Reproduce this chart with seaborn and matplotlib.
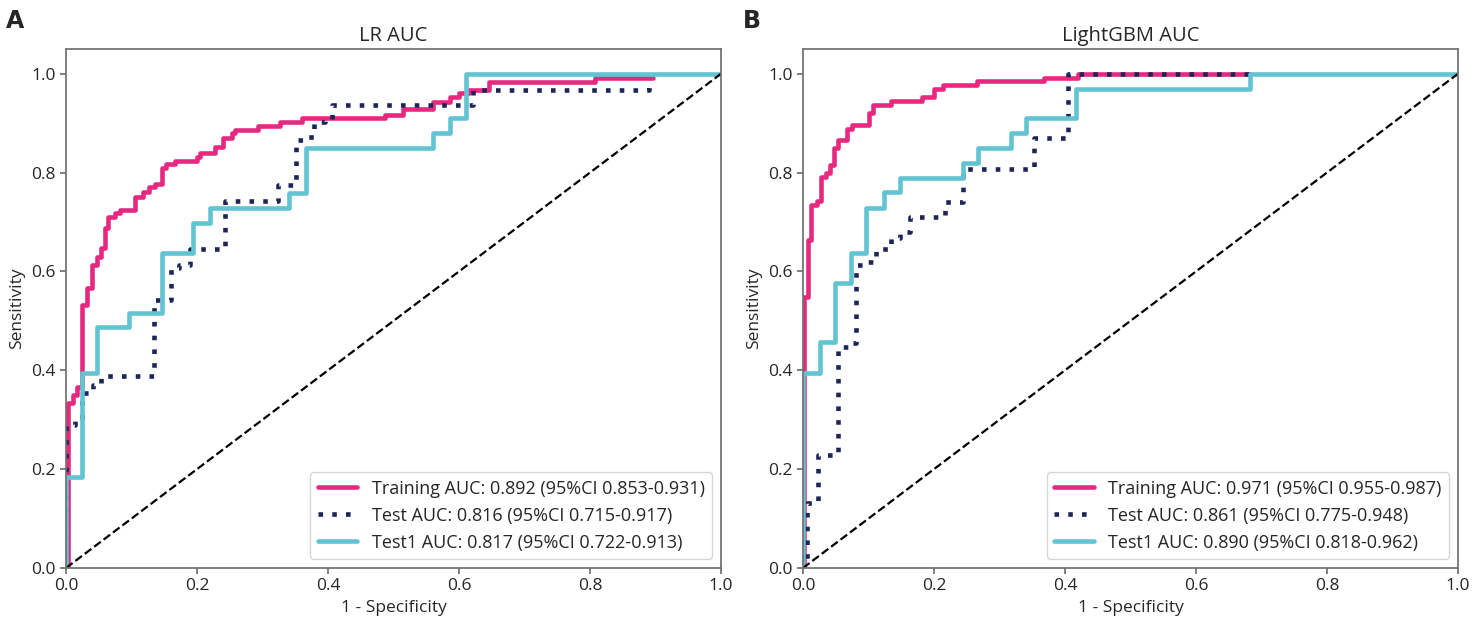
import seaborn as sns
import matplotlib.pyplot as plt
import pandas as pd

# ROC corner points (steps-post order)
lr_train_fpr = [0, 0.003, 0.011, 0.017, 0.025, 0.032, 0.039, 0.047, 0.053, 0.060, 0.064, 0.075,
                0.082, 0.105, 0.118, 0.127, 0.136, 0.146, 0.153, 0.166, 0.200, 0.205, 0.228, 0.240,
                0.253, 0.258, 0.293, 0.327, 0.360, 0.487, 0.515, 0.560, 0.586, 0.600, 0.615, 0.646,
                0.808, 0.896]
lr_train_tpr = [0, 0.334, 0.350, 0.366, 0.532, 0.567, 0.613, 0.630, 0.648, 0.688, 0.711, 0.718,
                0.725, 0.751, 0.761, 0.771, 0.777, 0.810, 0.818, 0.824, 0.832, 0.840, 0.852, 0.870,
                0.880, 0.886, 0.895, 0.903, 0.911, 0.917, 0.929, 0.943, 0.953, 0.961, 0.968, 0.984,
                0.992, 0.992]
lr_test_fpr = [0, 0, 0.014, 0.024, 0.042, 0.054, 0.135, 0.161, 0.172, 0.190, 0.243, 0.324, 0.351,
               0.365, 0.379, 0.396, 0.406, 0.622, 0.890]
lr_test_tpr = [0, 0.290, 0.300, 0.355, 0.370, 0.389, 0.543, 0.607, 0.613, 0.646, 0.743, 0.774,
               0.866, 0.873, 0.903, 0.907, 0.937, 0.968, 0.982]
lr_test1_fpr = [0, 0, 0.024, 0.047, 0.096, 0.146, 0.194, 0.220, 0.341, 0.366, 0.560, 0.586, 0.611, 1.0]
lr_test1_tpr = [0, 0.184, 0.395, 0.488, 0.516, 0.637, 0.698, 0.728, 0.759, 0.850, 0.880, 0.911, 1.0, 1.0]

gbm_train_fpr = [0, 0.002, 0.008, 0.013, 0.021, 0.027, 0.035, 0.041, 0.048, 0.054, 0.067, 0.075,
                 0.101, 0.107, 0.135, 0.181, 0.200, 0.214, 0.266, 0.368, 0.420, 0.682]
gbm_train_tpr = [0, 0.549, 0.664, 0.735, 0.743, 0.792, 0.800, 0.816, 0.850, 0.865, 0.888, 0.897,
                 0.921, 0.937, 0.944, 0.952, 0.969, 0.978, 0.985, 0.992, 1.0, 1.0]
gbm_test_fpr = [0, 0.006, 0.023, 0.053, 0.069, 0.081, 0.100, 0.112, 0.135, 0.148, 0.163, 0.217,
                0.245, 0.352, 0.405, 0.682]
gbm_test_tpr = [0, 0.131, 0.229, 0.448, 0.455, 0.613, 0.620, 0.645, 0.667, 0.679, 0.711, 0.740,
                0.807, 0.870, 1.0, 1.0]
gbm_test1_fpr = [0, 0, 0.026, 0.049, 0.074, 0.097, 0.123, 0.148, 0.244, 0.268, 0.318, 0.341,
                 0.417, 0.682, 1.0]
gbm_test1_tpr = [0, 0.395, 0.458, 0.577, 0.638, 0.729, 0.760, 0.790, 0.819, 0.850, 0.880, 0.910,
                 0.970, 1.0, 1.0]

lr_labels = ['Training AUC: 0.892 (95%CI 0.853-0.931)',
             'Test AUC: 0.816 (95%CI 0.715-0.917)',
             'Test1 AUC: 0.817 (95%CI 0.722-0.913)']
gbm_labels = ['Training AUC: 0.971 (95%CI 0.955-0.987)',
              'Test AUC: 0.861 (95%CI 0.775-0.948)',
              'Test1 AUC: 0.890 (95%CI 0.818-0.962)']

colors = ['#e8287f', '#1c2557', '#62c3d2']
styles = ['-', (0, (1, 2)), '-']

sns.set_theme(style='ticks')
plt.rcParams['font.family'] = ['Open Sans', 'DejaVu Sans']
plt.rcParams['axes.edgecolor'] = '#707070'


def draw(ax, curves, labels, title):
    for (fpr, tpr), label, color, ls in zip(curves, labels, colors, styles):
        df = pd.DataFrame({'x': fpr, 'y': tpr})
        sns.lineplot(data=df, x='x', y='y', ax=ax, sort=False, estimator=None,
                     drawstyle='steps-post', linewidth=3.3, color=color, label=label)
        ax.lines[-1].set_linestyle(ls)
    # chance line
    ax.plot([0, 1], [0, 1], color='black', linestyle='--', linewidth=1.6)
    ax.set(xlim=(0, 1), ylim=(0, 1.05), xlabel='1 - Specificity', ylabel='Sensitivity')
    ax.set_title(title, fontsize=14.5)
    ax.tick_params(labelsize=12.5, color='#707070', length=4)
    ax.xaxis.label.set_size(12.5)
    ax.yaxis.label.set_size(12.5)
    for s in ax.spines.values():
        s.set_visible(True)
    leg = ax.legend(loc='lower right', fontsize=13, frameon=True, handlelength=2.2)
    leg.get_lines()[1].set_linestyle((0, (1, 2)))


fig = plt.figure(figsize=(14.76, 6.22), dpi=100)
ax1 = fig.add_axes([0.0447, 0.0868, 0.4438, 0.8344])
ax2 = fig.add_axes([0.5440, 0.0868, 0.4438, 0.8344])

draw(ax1, [(lr_train_fpr, lr_train_tpr), (lr_test_fpr, lr_test_tpr), (lr_test1_fpr, lr_test1_tpr)],
     lr_labels, 'LR AUC')
draw(ax2, [(gbm_train_fpr, gbm_train_tpr), (gbm_test_fpr, gbm_test_tpr), (gbm_test1_fpr, gbm_test1_tpr)],
     gbm_labels, 'LightGBM AUC')

fig.text(0.004, 0.955, 'A', fontsize=17, fontweight='bold', family='DejaVu Sans')
fig.text(0.503, 0.955, 'B', fontsize=17, fontweight='bold', family='DejaVu Sans')

fig.savefig('out.png', dpi=100)
